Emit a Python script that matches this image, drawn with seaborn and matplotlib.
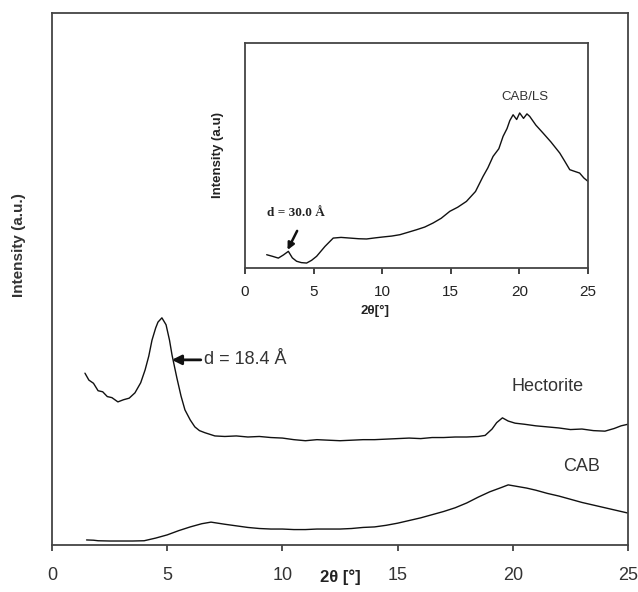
import numpy as np
import pandas as pd
import matplotlib
matplotlib.use("Agg")
import matplotlib.pyplot as plt
import seaborn as sns

# main panel: Hectorite and CAB patterns (2theta in degrees, intensity a.u.)
hect_2theta = [1.43, 1.6, 1.8, 2.0, 2.2, 2.4, 2.6, 2.86, 3.1, 3.35, 3.6, 3.85, 4.04, 4.2,
               4.34, 4.5, 4.6, 4.77, 4.95, 5.1, 5.21, 5.42, 5.6, 5.77, 6.0, 6.2, 6.4, 6.64,
               7.07, 7.5, 8.0, 8.5, 9.0, 9.5, 10.0, 10.5, 11.0, 11.5, 12.0, 12.5, 13.0, 13.5,
               14.0, 14.5, 15.0, 15.5, 16.0, 16.5, 17.0, 17.5, 18.0, 18.5, 18.8, 19.1, 19.3,
               19.55, 19.8, 20.1, 20.5, 21.0, 21.5, 22.0, 22.5, 23.0, 23.5, 24.0, 24.4, 24.7, 25.0]
hect_int = [32.3, 31.0, 30.4, 29.0, 28.8, 27.9, 27.7, 26.9, 27.3, 27.6, 28.6, 30.5, 32.9, 35.5,
            38.5, 40.8, 41.9, 42.7, 41.4, 38.5, 35.7, 31.4, 28.0, 25.4, 23.5, 22.2, 21.5, 21.1,
            20.5, 20.4, 20.5, 20.3, 20.4, 20.2, 20.1, 19.8, 19.6, 19.8, 19.7, 19.6, 19.7, 19.8,
            19.8, 19.9, 20.0, 20.1, 20.0, 20.2, 20.2, 20.3, 20.3, 20.4, 20.6, 21.8, 23.0,
            23.9, 23.3, 22.9, 22.7, 22.4, 22.2, 22.0, 21.7, 21.8, 21.5, 21.4, 21.9, 22.4, 22.7]

cab_2theta = [1.5, 1.8, 2.0, 2.5, 3.0, 3.5, 4.0, 4.5, 5.0, 5.5, 6.0, 6.5, 6.9, 7.5, 8.0, 8.5,
              9.0, 9.5, 10.0, 10.5, 11.0, 11.5, 12.0, 12.5, 13.0, 13.5, 14.0, 14.5, 15.0, 15.5,
              16.0, 16.5, 17.0, 17.5, 18.0, 18.5, 19.0, 19.5, 19.8, 20.2, 20.6, 21.0, 21.5,
              22.0, 22.5, 23.0, 23.5, 24.0, 24.5, 25.0]
cab_int = [0.95, 0.9, 0.8, 0.75, 0.75, 0.75, 0.8, 1.3, 1.9, 2.7, 3.4, 4.0, 4.3, 3.9, 3.6, 3.3,
           3.1, 3.0, 3.0, 2.9, 2.9, 3.0, 3.0, 3.0, 3.1, 3.3, 3.4, 3.7, 4.1, 4.6,
           5.1, 5.7, 6.3, 7.0, 7.9, 9.0, 10.0, 10.8, 11.3, 11.0, 10.7, 10.3, 9.7,
           9.2, 8.6, 8.0, 7.5, 7.0, 6.5, 6.0]

# inset: CAB/LS pattern
ls_2theta = [1.58, 2.0, 2.43, 2.8, 3.16, 3.45, 3.76, 4.1, 4.49, 4.85, 5.22, 5.83, 6.43, 7.0,
             7.65, 8.3, 8.86, 9.5, 10.07, 10.7, 11.29, 11.9, 12.5, 13.1, 13.71, 14.3, 14.93,
             15.5, 16.14, 16.8, 17.35, 17.7, 18.08, 18.5, 18.81, 19.1, 19.3, 19.54, 19.8,
             20.02, 20.3, 20.55, 20.75, 21.2, 21.72, 22.3, 22.94, 23.3, 23.67, 24.0, 24.39, 24.7, 25.0]
ls_int = [5.9, 5.2, 4.4, 5.8, 7.4, 4.5, 3.0, 2.4, 2.2, 3.4, 5.2, 9.6, 13.3, 13.6,
          13.3, 13.0, 12.9, 13.4, 13.8, 14.2, 14.8, 15.9, 17.0, 18.2, 20.0, 22.1, 25.2,
          27.0, 29.6, 34.0, 40.7, 44.5, 49.6, 53.0, 58.5, 62.0, 65.5, 68.1, 66.0,
          68.9, 66.5, 68.5, 67.4, 63.5, 60.0, 56.0, 51.1, 47.5, 43.7, 43.0, 42.2, 40.0, 38.5]

main_ticks = [0, 5, 10, 15, 20, 25]

sns.set_style("ticks")
plt.rcParams['font.family'] = ['Liberation Sans', 'DejaVu Sans']

fig = plt.figure(figsize=(6.38, 5.92), dpi=100)
ax = fig.add_axes([52 / 638, 47 / 592, 576 / 638, 532 / 592])

hect_df = pd.DataFrame({"two_theta": hect_2theta, "intensity": hect_int})
cab_df = pd.DataFrame({"two_theta": cab_2theta, "intensity": cab_int})
sns.lineplot(data=hect_df, x="two_theta", y="intensity", ax=ax, color="#111111", lw=1.0, sort=False)
sns.lineplot(data=cab_df, x="two_theta", y="intensity", ax=ax, color="#111111", lw=1.0, sort=False)

ax.set_xlim(0, 25)
ax.set_ylim(0, 100)
ax.set_xticks(main_ticks)
ax.set_xticklabels([str(t) for t in main_ticks])
ax.set_yticks([])
ax.tick_params(axis="x", direction="out", length=4.5, width=1.2, pad=11,
               labelsize=13, colors="#333333")
for sp in ax.spines.values():
    sp.set_visible(True)
    sp.set_color("#444444")
    sp.set_linewidth(1.3)

ax.set_xlabel("2θ [°]", fontsize=12, fontweight="bold", color="#222222", va="top")
ax.xaxis.set_label_coords(0.5, -0.045)
ax.set_ylabel("Intensity (a.u.)", fontsize=11, fontweight="bold", color="#333333")
ax.yaxis.set_label_coords(-0.045, 0.564)

ax.annotate("d = 18.4 Å", xy=(5.2, 34.8), xytext=(6.6, 34.8), fontsize=13, color="#333333",
            va="center", ha="left",
            arrowprops=dict(arrowstyle="-|>", color="#111111", lw=2.0, mutation_scale=14,
                            shrinkA=0, shrinkB=0))
ax.text(21.5, 29.8, "Hectorite", fontsize=13, color="#333333", ha="center", va="center")
ax.text(23.0, 14.7, "CAB", fontsize=13, color="#333333", ha="center", va="center")

# inset
ins = fig.add_axes([245 / 638, 324 / 592, 343 / 638, 225 / 592])
ls_df = pd.DataFrame({"two_theta": ls_2theta, "intensity": ls_int})
sns.lineplot(data=ls_df, x="two_theta", y="intensity", ax=ins, color="#111111", lw=1.0, sort=False)
ins.set_xlim(0, 25)
ins.set_ylim(0, 100)
ins.set_xticks(main_ticks)
ins.set_xticklabels([str(t) for t in main_ticks])
ins.set_yticks([])
ins.tick_params(axis="x", direction="out", length=4, width=1.2, pad=8,
                labelsize=11, colors="#222222")
for sp in ins.spines.values():
    sp.set_visible(True)
    sp.set_color("#444444")
    sp.set_linewidth(1.3)
ins.set_xlabel("2θ[°]", fontsize=9.5, fontweight="bold", color="#222222", va="top")
ins.xaxis.set_label_coords(0.38, -0.165)
ins.set_ylabel("Intensity (a.u)", fontsize=9.5, fontweight="bold", color="#222222")
ins.yaxis.set_label_coords(-0.06, 0.5)

ins.text(20.4, 76, "CAB/LS", fontsize=9.5, color="#333333", ha="center", va="center")
ins.text(1.6, 24.5, "d = 30.0 Å", fontsize=9.5, fontweight="bold", color="#222222",
         family=["Liberation Serif", "DejaVu Serif"], ha="left", va="center")
ins.annotate("", xy=(3.1, 8.0), xytext=(3.8, 16.5),
             arrowprops=dict(arrowstyle="-|>", color="#111111", lw=1.8, mutation_scale=10,
                             shrinkA=0, shrinkB=0))

fig.savefig("out.png", dpi=100)
